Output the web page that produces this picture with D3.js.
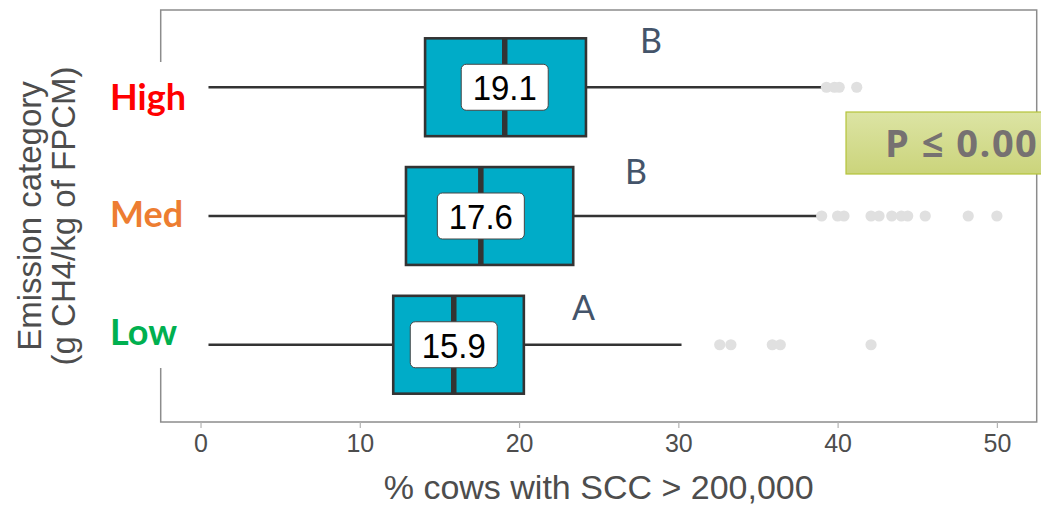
<!DOCTYPE html>
<html>
<head>
<meta charset="utf-8">
<script src="https://cdn.jsdelivr.net/npm/d3@7"></script>
<style>
  html, body { margin: 0; padding: 0; background: #fff; overflow: hidden; }
  svg { display: block; }
</style>
</head>
<body>
<svg id="chart" width="1041" height="518"></svg>
<script>
// Emission categories, top to bottom
const categories = ["High", "Med", "Low"];
const categoryColors = ["#ff0000", "#ed7d31", "#00b050"];

// Box-plot summaries (% cows with SCC > 200,000)
const whiskerLow  = [0.5, 0.5, 0.5];
const q1          = [14.1, 12.9, 12.1];
const medians     = [19.1, 17.6, 15.9];
const q3          = [24.2, 23.4, 20.3];
const whiskerHigh = [39.1, 38.7, 30.2];

// Outlying farms per category
const outliersHigh = [39.3, 39.8, 40.1, 41.2];
const outliersMed  = [39.0, 40.0, 40.4, 42.1, 42.6, 43.4, 44.0, 44.4, 45.5, 48.2, 50.0];
const outliersLow  = [32.6, 33.3, 35.9, 36.4, 42.1];

// Significance letters
const groupLetters = ["B", "B", "A"];

const xTicks = [0, 10, 20, 30, 40, 50];
const xTitle = "% cows with SCC > 200,000";
const yTitle = ["Emission category", "(g CH4/kg of FPCM)"];
const pText = "P \u2264 0.00";

const outliers = [outliersHigh, outliersMed, outliersLow];
const rows = categories.map((c, i) => ({
  cat: c, color: categoryColors[i], lo: whiskerLow[i], q1: q1[i], med: medians[i],
  q3: q3[i], hi: whiskerHigh[i], out: outliers[i], letter: groupLetters[i]
}));

const svg = d3.select("#chart");
const panel = { left: 160.7, right: 1036.7, top: 10, bottom: 422 };

const x = d3.scaleLinear().domain([-2.5, 52.5]).range([panel.left, panel.right]);
const y = d3.scalePoint().domain(categories).range([panel.top, panel.bottom]).padding(0.6);
const boxH = y.step() * 0.76;

const ink = "#333333";

// panel frame
svg.append("rect")
  .attr("x", panel.left).attr("y", panel.top)
  .attr("width", panel.right - panel.left).attr("height", panel.bottom - panel.top)
  .attr("fill", "none").attr("stroke", "#8c8c8c").attr("stroke-width", 1.5);

// bottom axis
const xAxis = d3.axisBottom(x).tickValues(xTicks).tickSize(6).tickPadding(6).tickFormat(d3.format("d"));
const gx = svg.append("g").attr("transform", `translate(0,${panel.bottom})`).call(xAxis);
gx.select(".domain").remove();
gx.selectAll(".tick line").attr("stroke", "#b3b3b3").attr("stroke-width", 1.2);
gx.selectAll(".tick text")
  .attr("font-family", "Liberation Sans, Arial, sans-serif")
  .attr("font-size", 25).attr("fill", "#4d4d4d").attr("dy", "0.71em");

// axis titles
svg.append("text")
  .attr("x", (panel.left + panel.right) / 2).attr("y", 499)
  .attr("text-anchor", "middle")
  .attr("font-family", "Liberation Sans, Arial, sans-serif")
  .attr("font-size", 34).attr("fill", "#4d4d4d")
  .text(xTitle);

const yt = svg.append("text")
  .attr("transform", `translate(41,216) rotate(-90)`)
  .attr("text-anchor", "middle")
  .attr("font-family", "Liberation Sans, Arial, sans-serif")
  .attr("font-size", 33).attr("fill", "#4d4d4d");
yt.append("tspan").attr("x", 0).attr("y", 0).text(yTitle[0]);
yt.append("tspan").attr("x", 0).attr("y", 34).text(yTitle[1]);

// white backing behind the category names
svg.append("rect")
  .attr("x", 100).attr("y", 62).attr("width", 100).attr("height", 306)
  .attr("fill", "#ffffff");

const g = svg.append("g");
// category name baselines (offset from each row centre)
const nameOffset = [23, 11, 0];

rows.forEach((r, i) => {
  const cy = y(r.cat);
  // whiskers
  g.append("line").attr("x1", x(r.lo)).attr("x2", x(r.q1)).attr("y1", cy).attr("y2", cy)
    .attr("stroke", ink).attr("stroke-width", 2.6);
  g.append("line").attr("x1", x(r.q3)).attr("x2", x(r.hi)).attr("y1", cy).attr("y2", cy)
    .attr("stroke", ink).attr("stroke-width", 2.6);
  // outliers
  g.selectAll(null).data(r.out).join("circle")
    .attr("cx", d => x(d)).attr("cy", cy).attr("r", 5.6).attr("fill", "#e0e0e0");
  // box
  g.append("rect")
    .attr("x", x(r.q1)).attr("y", cy - boxH / 2)
    .attr("width", x(r.q3) - x(r.q1)).attr("height", boxH)
    .attr("fill", "#00acc8").attr("stroke", ink).attr("stroke-width", 2.6);
  // median
  g.append("line").attr("x1", x(r.med)).attr("x2", x(r.med))
    .attr("y1", cy - boxH / 2).attr("y2", cy + boxH / 2)
    .attr("stroke", ink).attr("stroke-width", 5.5);
  // median value label
  const lw = 87, lh = 46;
  g.append("rect")
    .attr("x", x(r.med) - lw / 2).attr("y", cy - lh / 2)
    .attr("width", lw).attr("height", lh).attr("rx", 5)
    .attr("fill", "#ffffff").attr("stroke", "#444").attr("stroke-width", 1);
  g.append("text")
    .attr("transform", `translate(${x(r.med)},${cy + 13}) scale(1.03,1.12)`)
    .attr("text-anchor", "middle")
    .attr("font-family", "Liberation Sans, Arial, sans-serif")
    .attr("font-size", 32).attr("fill", "#000")
    .text(d3.format(".1f")(r.med));
  // category name
  svg.append("text")
    .attr("x", 110).attr("y", cy + nameOffset[i])
    .attr("font-family", "Lato, sans-serif").attr("font-weight", "bold")
    .attr("font-size", 36).attr("fill", r.color)
    .text(r.cat);
});

// significance letters, placed just past each box
const letterPos = [[640, 53], [625, 184], [572, 320]];
rows.forEach((r, i) => {
  svg.append("text")
    .attr("x", letterPos[i][0]).attr("y", letterPos[i][1])
    .attr("font-family", "Lato, sans-serif").attr("font-size", 34)
    .attr("fill", "#44546a")
    .text(r.letter);
});

// p-value badge
const grad = svg.append("defs").append("linearGradient")
  .attr("id", "pfill").attr("x1", 0).attr("y1", 0).attr("x2", 0).attr("y2", 1);
grad.append("stop").attr("offset", "0%").attr("stop-color", "#dce4a4");
grad.append("stop").attr("offset", "100%").attr("stop-color", "#cbd47b");
svg.append("rect")
  .attr("x", 846).attr("y", 112).attr("width", 210).attr("height", 62)
  .attr("fill", "url(#pfill)").attr("stroke", "#b5c43a").attr("stroke-width", 1.2);
svg.append("text")
  .attr("x", 885).attr("y", 157)
  .attr("font-family", "Open Sans, sans-serif").attr("font-weight", "bold")
  .attr("font-size", 38).attr("letter-spacing", 1.5).attr("fill", "#767171")
  .text(pText);
</script>
</body>
</html>
